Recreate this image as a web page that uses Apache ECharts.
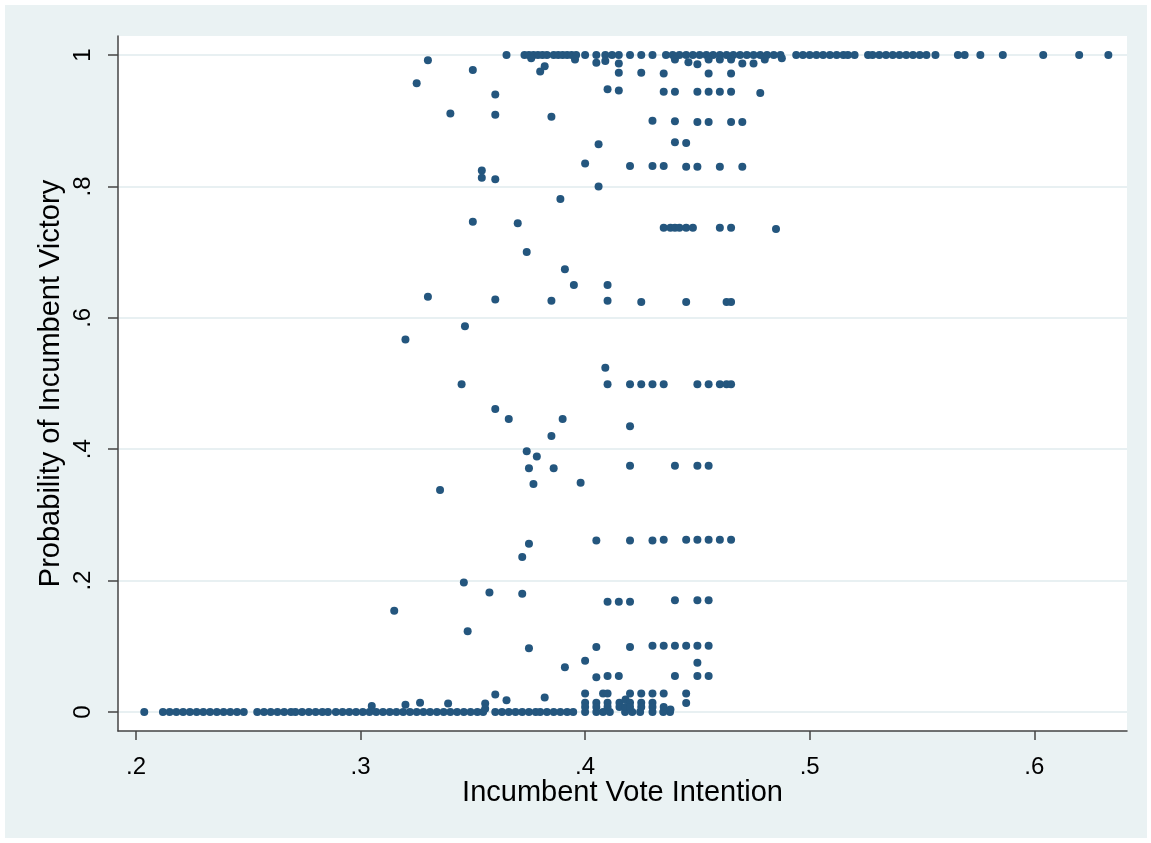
<!DOCTYPE html>
<html>
<head>
<meta charset="utf-8">
<script src="https://cdn.jsdelivr.net/npm/echarts@6/dist/echarts.min.js"></script>
<style>
  html, body { margin: 0; padding: 0; background: #fff; }
  #frame { position: absolute; left: 5px; top: 5px; right: 4px; bottom: 5px; background: #eaf2f3; }
  #chart { position: absolute; left: 0; top: 0; width: 1151px; height: 843px; }
</style>
</head>
<body>
<div id="frame"></div>
<div id="chart"></div>
<script>
  // tick values and labels
  const xTicks = [0.2, 0.3, 0.4, 0.5, 0.6]
  const xTickLabels = ['.2', '.3', '.4', '.5', '.6']
  const yTicks = [0, 0.2, 0.4, 0.6, 0.8, 1]
  const yTickLabels = ['0', '.2', '.4', '.6', '.8', '1']

  // vote intention of races where victory probability is 1
  const winX = [0.365, 0.373, 0.375, 0.377, 0.379, 0.381, 0.383, 0.386, 0.388, 0.390, 0.392, 0.394, 0.396,
    0.400, 0.405, 0.409, 0.412, 0.415, 0.420, 0.425, 0.430, 0.436, 0.439, 0.442, 0.445, 0.448, 0.451, 0.454,
    0.457, 0.460, 0.463, 0.466, 0.469, 0.472, 0.475, 0.478, 0.481, 0.484, 0.487, 0.494, 0.497, 0.500, 0.503,
    0.506, 0.509, 0.512, 0.515, 0.517, 0.520, 0.526, 0.528, 0.531, 0.534, 0.537, 0.540, 0.543, 0.546, 0.549,
    0.552, 0.556, 0.566, 0.569, 0.576, 0.586, 0.604, 0.620, 0.633]

  // vote intention of races where victory probability is 0
  const lossX = [0.2037, 0.212, 0.215, 0.218, 0.221, 0.224, 0.227, 0.230, 0.233, 0.236, 0.239, 0.242, 0.245,
    0.248, 0.254, 0.257, 0.260, 0.263, 0.266, 0.269, 0.271, 0.274, 0.277, 0.280, 0.283, 0.2855, 0.289, 0.292,
    0.295, 0.298, 0.301, 0.304, 0.307, 0.310, 0.313, 0.316, 0.319, 0.322, 0.325, 0.328, 0.331, 0.334, 0.337,
    0.340, 0.343, 0.346, 0.349, 0.352, 0.3546, 0.360, 0.363, 0.366, 0.369, 0.372, 0.375, 0.378, 0.380, 0.383,
    0.386, 0.389, 0.392, 0.3947, 0.400, 0.405, 0.408, 0.411, 0.4178, 0.421, 0.4245, 0.430, 0.4348, 0.4378]

  // everything in between: [vote intention, probability]
  const mixedPoints = [
    [0.330, 0.992], [0.325, 0.957], [0.350, 0.977], [0.376, 0.995], [0.380, 0.975], [0.382, 0.983],
    [0.3955, 0.993], [0.405, 0.988], [0.409, 0.991], [0.415, 0.987], [0.440, 0.993], [0.446, 0.989],
    [0.450, 0.986], [0.455, 0.993], [0.460, 0.993], [0.465, 0.993], [0.470, 0.987], [0.475, 0.987],
    [0.480, 0.993], [0.4876, 0.995],
    [0.415, 0.973], [0.425, 0.973], [0.435, 0.972], [0.455, 0.972], [0.465, 0.972],
    [0.360, 0.940], [0.410, 0.948], [0.415, 0.946], [0.435, 0.944], [0.440, 0.944], [0.450, 0.944],
    [0.455, 0.944], [0.460, 0.944], [0.465, 0.944], [0.478, 0.942],
    [0.340, 0.911], [0.360, 0.909], [0.385, 0.906], [0.430, 0.900], [0.440, 0.899], [0.450, 0.898],
    [0.455, 0.898], [0.465, 0.898], [0.470, 0.898],
    [0.406, 0.864], [0.440, 0.867], [0.445, 0.866],
    [0.400, 0.835], [0.420, 0.831], [0.430, 0.831], [0.435, 0.831], [0.445, 0.830], [0.450, 0.830],
    [0.460, 0.830], [0.470, 0.830],
    [0.354, 0.824], [0.354, 0.813], [0.360, 0.811], [0.406, 0.800], [0.389, 0.781],
    [0.350, 0.746], [0.370, 0.744], [0.435, 0.737], [0.438, 0.737], [0.440, 0.737], [0.442, 0.737],
    [0.445, 0.737], [0.448, 0.737], [0.460, 0.737], [0.465, 0.737], [0.485, 0.735],
    [0.374, 0.700], [0.391, 0.674], [0.395, 0.650], [0.410, 0.650],
    [0.330, 0.632], [0.360, 0.628], [0.385, 0.626], [0.410, 0.626], [0.425, 0.624], [0.445, 0.624],
    [0.463, 0.624], [0.465, 0.624],
    [0.3465, 0.587], [0.320, 0.567], [0.409, 0.524],
    [0.345, 0.499], [0.410, 0.499], [0.420, 0.499], [0.425, 0.499], [0.430, 0.499], [0.435, 0.499],
    [0.450, 0.499], [0.455, 0.499], [0.460, 0.499], [0.463, 0.499], [0.465, 0.499],
    [0.360, 0.461], [0.366, 0.446], [0.390, 0.446], [0.420, 0.435], [0.385, 0.420], [0.374, 0.397],
    [0.3785, 0.389], [0.375, 0.371], [0.386, 0.371],
    [0.420, 0.375], [0.440, 0.375], [0.450, 0.375], [0.455, 0.375],
    [0.377, 0.347], [0.398, 0.349], [0.3354, 0.338],
    [0.405, 0.261], [0.420, 0.261], [0.430, 0.261], [0.435, 0.262], [0.445, 0.262], [0.450, 0.262],
    [0.455, 0.262], [0.460, 0.262], [0.465, 0.262],
    [0.375, 0.256], [0.372, 0.236], [0.346, 0.197], [0.3574, 0.182], [0.372, 0.180],
    [0.410, 0.168], [0.415, 0.168], [0.420, 0.168], [0.440, 0.170], [0.450, 0.170], [0.455, 0.170],
    [0.315, 0.154], [0.3477, 0.123], [0.375, 0.097],
    [0.405, 0.099], [0.420, 0.099], [0.430, 0.101], [0.435, 0.101], [0.440, 0.101], [0.445, 0.101],
    [0.450, 0.101], [0.455, 0.101],
    [0.400, 0.078], [0.450, 0.075], [0.391, 0.068],
    [0.405, 0.053], [0.410, 0.055], [0.415, 0.055], [0.440, 0.055], [0.450, 0.055], [0.455, 0.055],
    [0.305, 0.009], [0.320, 0.011], [0.3265, 0.014], [0.339, 0.013], [0.3555, 0.013], [0.3555, 0.005],
    [0.360, 0.0265], [0.365, 0.018], [0.382, 0.022],
    [0.400, 0.028], [0.400, 0.014], [0.400, 0.0076], [0.405, 0.014], [0.405, 0.0076], [0.408, 0.028],
    [0.410, 0.028], [0.410, 0.014], [0.410, 0.0076], [0.4153, 0.014], [0.4153, 0.0076], [0.418, 0.019],
    [0.418, 0.0076], [0.420, 0.028], [0.420, 0.014], [0.420, 0.0076], [0.425, 0.028], [0.425, 0.014],
    [0.425, 0.0076], [0.430, 0.028], [0.430, 0.014], [0.430, 0.0076], [0.435, 0.028], [0.435, 0.0076],
    [0.438, 0.004], [0.445, 0.028], [0.445, 0.0137]
  ]

  const font = '"Liberation Sans", Arial, Helvetica, sans-serif'
  const dotColor = '#24567e'

  const allPoints = []
  winX.forEach(x => allPoints.push([x, 1]))
  lossX.forEach(x => allPoints.push([x, 0]))
  mixedPoints.forEach(p => allPoints.push(p))

  const myChart = echarts.init(document.getElementById('chart'), null, { renderer: 'canvas' })
  myChart.setOption({
    animation: false,
    grid: {
      left: 118,
      right: 24,
      top: 36,
      bottom: 112,
      show: true,
      backgroundColor: '#fff',
      borderWidth: 0
    },
    xAxis: {
      type: 'value',
      min: 0.192,
      max: 0.6413,
      name: 'Incumbent Vote Intention',
      nameLocation: 'middle',
      nameGap: 47,
      nameMoveOverlap: false,
      nameTextStyle: { fontFamily: font, fontSize: 29, color: '#000' },
      axisLine: { onZero: false, lineStyle: { color: '#444', width: 1.5 } },
      axisTick: { length: 9, customValues: xTicks, lineStyle: { color: '#444', width: 1.5 } },
      axisLabel: {
        customValues: xTicks,
        margin: 24,
        fontFamily: font,
        fontSize: 24,
        color: '#000',
        formatter: v => xTickLabels[xTicks.indexOf(v)]
      },
      splitLine: { show: false }
    },
    yAxis: {
      type: 'value',
      min: -0.0289,
      max: 1.0289,
      name: 'Probability of Incumbent Victory',
      nameLocation: 'middle',
      nameGap: 53,
      nameMoveOverlap: false,
      nameTextStyle: { fontFamily: font, fontSize: 29, color: '#000' },
      axisLine: { show: true, onZero: false, lineStyle: { color: '#444', width: 1.5 } },
      axisTick: { show: true, length: 10, customValues: yTicks, lineStyle: { color: '#444', width: 1.5 } },
      axisLabel: {
        customValues: yTicks,
        rotate: 90,
        margin: 23,
        fontFamily: font,
        fontSize: 24,
        color: '#000',
        formatter: v => yTickLabels[yTicks.indexOf(v)]
      },
      splitLine: { show: true, lineStyle: { color: '#e8f0f2', width: 2 } }
    },
    series: [{
      type: 'scatter',
      symbol: 'circle',
      symbolSize: 8,
      itemStyle: { color: dotColor, opacity: 1 },
      data: allPoints
    }]
  })

  window.addEventListener('resize', () => {
    myChart && myChart.resize()
  })
</script>
</body>
</html>
